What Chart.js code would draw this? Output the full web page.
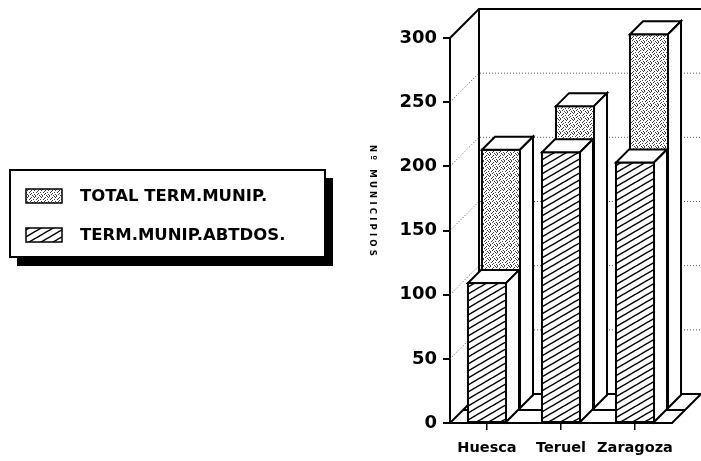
<!DOCTYPE html>
<html>
<head>
<meta charset="utf-8">
<script src="https://cdn.jsdelivr.net/npm/chart.js@4.4.0/dist/chart.umd.min.js"></script>
<style>
  html, body { margin: 0; padding: 0; background: #fff; }
  #wrap { width: 701px; height: 461px; }
</style>
</head>
<body>
<div id="wrap"><canvas id="bar-chart"></canvas></div>
<script>
// municipios por provincia
const provincias = ['Huesca', 'Teruel', 'Zaragoza'];
const totalTerm = [202, 236, 292];
const termAbtdos = [109, 211, 203];
const legendLabels = ['TOTAL TERM.MUNIP.', 'TERM.MUNIP.ABTDOS.'];
const yTitle = 'Nº MUNICIPIOS';

// fake 3d box sizes
const DEPTH = 29;   // back wall offset
const ROW = 14;     // second row offset
const BAR_D = 13;   // bar thickness

function hatchPattern() {
  const c = document.createElement('canvas');
  c.width = 12; c.height = 7;
  const g = c.getContext('2d');
  g.fillStyle = '#fff';
  g.fillRect(0, 0, 12, 7);
  g.strokeStyle = '#000';
  g.lineWidth = 1.5;
  g.beginPath();
  for (let k = -1; k <= 1; k++) {
    g.moveTo(-2, 7 + 7 * 2 / 12 + k * 7);
    g.lineTo(14, 7 - 7 * 14 / 12 + k * 7);
  }
  g.stroke();
  return g.createPattern(c, 'repeat');
}

function dotPattern() {
  const c = document.createElement('canvas');
  c.width = 7; c.height = 7;
  const g = c.getContext('2d');
  g.fillStyle = '#fff';
  g.fillRect(0, 0, 7, 7);
  g.fillStyle = '#444';
  [[0,0],[3,1],[6,1],[1,3],[5,3],[3,4],[0,6],[4,6],[2,2],[6,5],[2,5],[5,0]].forEach(function(p) {
    g.fillRect(p[0], p[1], 1, 1);
  });
  return g.createPattern(c, 'repeat');
}

const hatch = hatchPattern();
const dots = dotPattern();

function poly(ctx, pts, fill) {
  ctx.beginPath();
  ctx.moveTo(pts[0][0], pts[0][1]);
  for (let i = 1; i < pts.length; i++) ctx.lineTo(pts[i][0], pts[i][1]);
  ctx.closePath();
  if (fill) { ctx.fillStyle = fill; ctx.fill(); }
  ctx.stroke();
}

function box(ctx, x0, x1, yt, yb, d, fill) {
  ctx.fillStyle = fill;
  ctx.fillRect(x0, yt, x1 - x0, yb - yt);
  ctx.strokeRect(x0, yt, x1 - x0, yb - yt);
  poly(ctx, [[x0, yt], [x1, yt], [x1 + d, yt - d], [x0 + d, yt - d]], '#fff');
  poly(ctx, [[x1, yt], [x1 + d, yt - d], [x1 + d, yb - d], [x1, yb]], '#fff');
}

const box3d = {
  id: 'box3d',
  beforeDatasetsDraw(chart) {
    const ctx = chart.ctx;
    const a = chart.chartArea;
    const y = chart.scales.y;
    ctx.save();
    ctx.strokeStyle = '#000';
    ctx.lineJoin = 'miter';

    // dotted grid on the walls
    ctx.lineWidth = 1;
    ctx.setLineDash([1, 2]);
    ctx.strokeStyle = '#555';
    y.ticks.forEach(function(t) {
      if (t.value === 0 || t.value === y.max) return;
      const py = y.getPixelForValue(t.value);
      ctx.beginPath();
      ctx.moveTo(a.left, py);
      ctx.lineTo(a.left + DEPTH, py - DEPTH);
      ctx.lineTo(a.right + DEPTH, py - DEPTH);
      ctx.stroke();
    });
    ctx.setLineDash([]);
    ctx.strokeStyle = '#000';

    // walls
    ctx.lineWidth = 2;
    ctx.beginPath();
    ctx.moveTo(a.left, a.top);
    ctx.lineTo(a.left + DEPTH, a.top - DEPTH);
    ctx.lineTo(a.right + DEPTH, a.top - DEPTH);
    ctx.moveTo(a.left + DEPTH, a.top - DEPTH);
    ctx.lineTo(a.left + DEPTH, a.bottom - DEPTH);
    ctx.stroke();

    // floor
    poly(ctx, [[a.left, a.bottom], [a.right, a.bottom],
               [a.right + DEPTH, a.bottom - DEPTH], [a.left + DEPTH, a.bottom - DEPTH]], '#fff');
    ctx.beginPath();
    ctx.moveTo(a.left + BAR_D, a.bottom - BAR_D);
    ctx.lineTo(a.right + BAR_D, a.bottom - BAR_D);
    ctx.stroke();

    // back row: totals
    const back = chart.getDatasetMeta(1).data;
    back.forEach(function(el) {
      const x0 = el.x - el.width / 2 + ROW, x1 = el.x + el.width / 2 + ROW;
      box(ctx, x0, x1, el.y - ROW, el.base - ROW, BAR_D, dots);
    });

    // front row
    const front = chart.getDatasetMeta(0).data;
    front.forEach(function(el) {
      const x0 = el.x - el.width / 2, x1 = el.x + el.width / 2;
      box(ctx, x0, x1, el.y, el.base, BAR_D, hatch);
    });

    ctx.restore();
    return false;
  },
  afterDraw(chart) {
    const ctx = chart.ctx;
    ctx.save();

    // vertical axis title
    ctx.translate(372, 202);
    ctx.rotate(Math.PI / 2);
    ctx.font = 'bold 8.5px "DejaVu Sans"';
    ctx.letterSpacing = '3.2px';
    ctx.fillStyle = '#000';
    ctx.textAlign = 'center';
    ctx.textBaseline = 'middle';
    ctx.fillText(yTitle, 0, 0);
    ctx.setTransform(1, 0, 0, 1, 0, 0);
    ctx.letterSpacing = '0px';

    // legend with drop shadow
    ctx.fillStyle = '#000';
    ctx.fillRect(17, 178, 316, 88);
    ctx.fillStyle = '#fff';
    ctx.fillRect(10, 170, 315, 87);
    ctx.strokeStyle = '#000';
    ctx.lineWidth = 2;
    ctx.strokeRect(10, 170, 315, 87);

    const fills = [dots, hatch];
    const rows = [189, 228];
    ctx.font = 'bold 16.5px "DejaVu Sans", sans-serif';
    ctx.textAlign = 'left';
    ctx.textBaseline = 'middle';
    ctx.lineWidth = 1.5;
    rows.forEach(function(ry, i) {
      ctx.fillStyle = fills[i];
      ctx.fillRect(26, ry, 36, 14);
      ctx.strokeRect(26, ry, 36, 14);
      ctx.fillStyle = '#000';
      ctx.fillText(legendLabels[i], 80, ry + 8);
    });
    ctx.restore();
  }
};

const config = {
  type: 'bar',
  data: {
    labels: provincias,
    datasets: [{
      label: legendLabels[1],
      data: termAbtdos,
      backgroundColor: hatch
    }, {
      label: legendLabels[0],
      data: totalTerm,
      backgroundColor: dots
    }]
  },
  options: {
    responsive: true,
    maintainAspectRatio: false,
    animation: false,
    layout: { padding: { top: 38, right: 29, bottom: 0, left: 0 } },
    datasets: {
      bar: { grouped: false, barPercentage: 1, categoryPercentage: 0.514 }
    },
    plugins: {
      legend: { display: false },
      tooltip: { enabled: false }
    },
    scales: {
      x: {
        afterFit: function(s) { s.height = 38; },
        grid: { display: true, drawOnChartArea: false, offset: false, tickLength: 7, color: '#000', lineWidth: 1.5 },
        border: { display: true, color: '#000', width: 2 },
        ticks: {
          color: '#000', padding: 10, maxRotation: 0, minRotation: 0, autoSkip: false,
          font: { family: 'DejaVu Sans', weight: 'bold', size: 14.5 }
        }
      },
      y: {
        min: 0,
        max: 300,
        afterFit: function(s) { s.width = 450; },
        grid: { display: true, drawOnChartArea: false, tickLength: 7, color: '#000', lineWidth: 2 },
        border: { display: true, color: '#000', width: 2 },
        ticks: { stepSize: 50, color: '#000', padding: 6, font: { family: 'DejaVu Sans', weight: 'bold', size: 18 } }
      }
    }
  },
  plugins: [box3d]
};

var chart = new Chart(document.getElementById('bar-chart'), config);
</script>
</body>
</html>
